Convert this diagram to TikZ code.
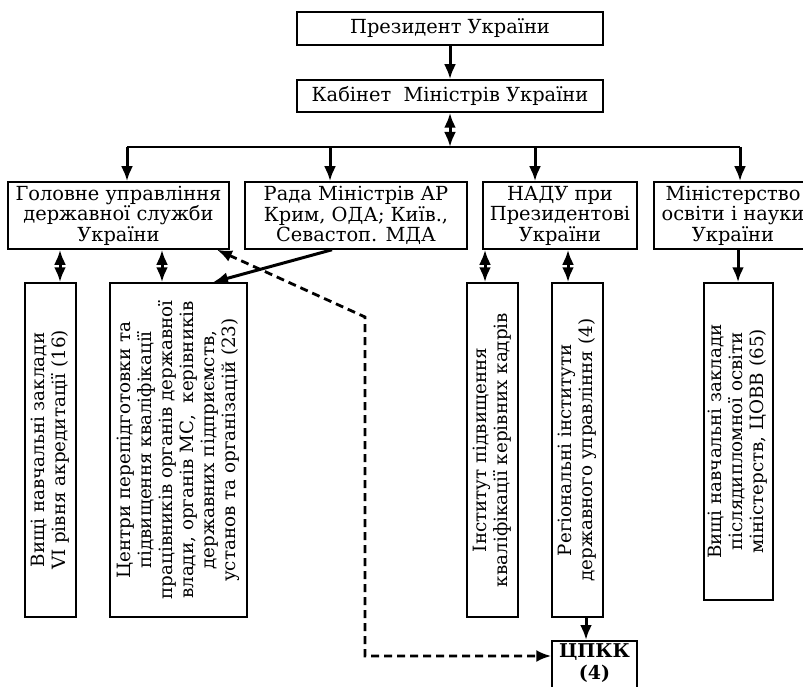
\documentclass[tikz,border=0pt]{standalone}
\usepackage{fontspec}
\setmainfont{DejaVu Serif}
\usepackage{graphicx}
\usetikzlibrary{arrows.meta,calc}
\newcommand\mytv[1]{\rotatebox{90}{\begin{tabular}{@{}c@{}}#1\end{tabular}}}
\tikzset{
  box/.style={draw, line width=1.5pt, inner sep=0pt, align=center, font=\fontsize{19.4}{20.5}\selectfont},
  vbox/.style={draw, line width=1.5pt, inner sep=0pt, font=\fontsize{18.3}{21}\selectfont},
  tip/.tip={Latex[length=15pt,width=12pt]},
  arr/.style={line width=3pt, -tip},
  darr/.style={line width=3pt, tip-tip},
  dasharr/.style={line width=2.8pt, dash pattern=on 8pt off 5pt, tip-tip},
  busline/.style={line width=2pt}
}
\begin{document}
\begin{tikzpicture}[x=1pt,y=-1pt]
\useasboundingbox (0,0) rectangle (803,687);
\clip (0,0) rectangle (803,687);
% top
\node[box, minimum width=306, minimum height=33] (pres) at (450,28.5) {Президент України};
\node[box, minimum width=306, minimum height=32] (cab) at (450,96) {Кабінет\ \ Міністрів України};
% second row
\node[box, minimum width=221, minimum height=67] (g1) at (118.5,215.5) {Головне управління\\державної служби\\України};
\node[box, minimum width=222, minimum height=67] (g2) at (356,215.5) {Рада Міністрів АР\\Крим, ОДА; Київ.,\\Севастоп. МДА};
\node[box, minimum width=154, minimum height=67] (g3) at (560,215.5) {НАДУ при\\Президентові\\України};
\node[box, minimum width=158, minimum height=67] (g4) at (733,215.5) {Міністерство\\освіти і науки\\України};
% vertical boxes
\node[vbox, minimum width=51, minimum height=334] (A) at (50.5,450) {\mytv{Вищі навчальні заклади\\VI рівня акредитації (16)}};
\node[vbox, minimum width=137, minimum height=334] (B) at (178.5,450) {\mytv{Центри перепідготовки та\\підвищення кваліфікації\\працівників органів державної\\влади, органів МС,\ \ керівників\\державних підприємств,\\установ та організацій (23)}};
\node[vbox, minimum width=51, minimum height=334] (C) at (492.5,450) {\mytv{Інститут підвищення\\кваліфікації керівних кадрів}};
\node[vbox, minimum width=51, minimum height=334] (D) at (577.5,450) {\mytv{Регіональні інститути\\державного управління (4)}};
\node[vbox, minimum width=69, minimum height=317] (E) at (738.5,441.5) {\mytv{Вищі навчальні заклади\\післядипломної освіти\\міністерств, ЦОВВ (65)}};
% ЦПКК
\node[draw, line width=1.5pt, minimum width=85, minimum height=70, anchor=north] (cp) at (594.5,640) {};
\node[font=\fontsize{19}{22}\selectfont\bfseries, align=center, inner sep=0pt] (cpt) at (594.5,663) {ЦПКК\\(4)};
% coordinates
\coordinate (bus) at (450,147);
\coordinate (busL) at (127,147);
\coordinate (busR) at (740,147);
\coordinate (x2) at (330,0);
\coordinate (x3) at (535,0);
\coordinate (xa) at (60,0);
\coordinate (xb) at (162,0);
\coordinate (xc) at (485,0);
\coordinate (xd) at (568,0);
\coordinate (xe) at (738,0);
\coordinate (r1) at (332,0);
\coordinate (r2) at (213,0);
\coordinate (dd) at (217,0);
\coordinate (k1) at (365,317);
\coordinate (k2) at (365,656);
\coordinate (xcp) at (586,0);
% connectors
\draw[arr] (pres) -- (cab);
\draw[darr] (cab.south) -- (bus);
\draw[busline] (busL) -- (busR);
\draw[arr] (busL) -- (busL |- g1.north);
\draw[arr] (bus -| x2) -- (x2 |- g2.north);
\draw[arr] (bus -| x3) -- (x3 |- g3.north);
\draw[arr] (busR) -- (busR |- g4.north);
\draw[darr] (g1.south -| xa) -- (A.north -| xa);
\draw[darr] (g1.south -| xb) -- (B.north -| xb);
\draw[arr] (g2.south -| r1) -- (B.north -| r2);
\draw[darr] (g3.south -| xc) -- (C.north -| xc);
\draw[darr] (g3.south -| xd) -- (D.north -| xd);
\draw[arr] (g4.south -| xe) -- (E.north -| xe);
\draw[arr] (D.south -| xcp) -- (cp.north -| xcp);
\draw[dasharr] (g1.south -| dd) -- (k1) -- (k2) -- (k2 -| cp.west);
\end{tikzpicture}
\end{document}
